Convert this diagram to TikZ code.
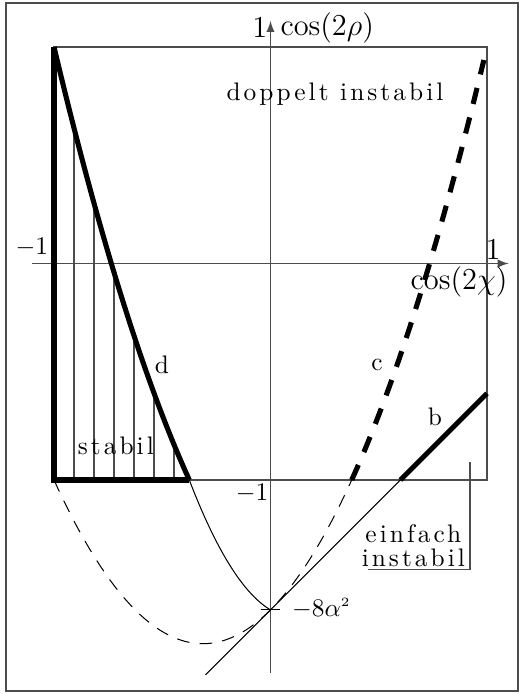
\documentclass[tikz,border=0pt]{standalone}
\usepackage{fontspec}
\newfontfamily\spacedrm{lmroman10-regular.otf}[LetterSpace=12]
\tikzset{
  lbl/.style={font=\spacedrm, inner sep=0pt},
  mlbl/.style={font=\large, inner sep=0pt},
  fine/.style={black!70, line width=0.5pt},
  heavy/.style={line width=2pt}
}
\begin{document}
\begin{tikzpicture}[scale=3]
  \useasboundingbox (-1.2494,-1.9885) rectangle (1.1570,1.2171);
  \draw[fine, line width=0.7pt] (-1.2217,-1.9746) rectangle (1.1432,1.2032);
  % square and axes
  \draw[fine] (-1,-1) rectangle (1,1);
  \draw[fine, -latex] (-1.1,0) -- (1.1,0);
  \draw[fine, -latex] (0,-1.89) -- (0,1.12);
  \draw (-0.046,-1.6) -- (0.046,-1.6);
  % hatching of the stable region
  \foreach \k in {1,...,6} {
    \pgfmathsetmacro\hx{-1+0.0924*\k}
    \draw[fine] (\hx,-1) -- (\hx,{-1.6-(\hx)+1.6*(\hx)*(\hx)});
  }
  % curve d
  \draw[heavy, domain=-1:-0.375, samples=40] plot (\x,{-1.6-\x+1.6*\x*\x});
  \draw[domain=-0.375:0, samples=30] plot (\x,{-1.6-0.594*\x+2.683*\x*\x});
  \draw[heavy] (-1,1) -- (-1,-1) -- (-0.375,-1);
  % curve c
  \draw[dash pattern=on 5pt off 4pt, domain=-1:0.375, samples=60] plot (\x,{-1.6+\x+1.6*\x*\x});
  \draw[heavy, dash pattern=on 6.5pt off 5.5pt, domain=0.375:0.9857, samples=30] plot (\x,{-1.6+\x+1.6*\x*\x});
  % line b
  \draw (-0.3,-1.9) -- (0.6,-1);
  \draw[heavy] (0.6,-1) -- (1,-0.6);
  \draw[fine] (0.921,-0.917) -- (0.921,-1.414) -- (0.45,-1.414);
  % labels
  \node[mlbl, anchor=east] (yone) at (-0.012,1.088) {$1$};
  \node[mlbl, anchor=west] (ylab) at (0.044,1.088) {$\cos(2\rho)$};
  \node[mlbl] (xone) at (1.028,0.062) {$1$};
  \node[mlbl] (xlab) at (0.871,-0.085) {$\cos(2\chi)$};
  \node[inner sep=0pt] (xmone) at (-1.102,0.076) {$-1$};
  \node[inner sep=0pt] (ymone) at (-0.085,-1.06) {$-1$};
  \node[inner sep=0pt, anchor=west] (alpha) at (0.098,-1.593) {$-8\alpha^{\scriptscriptstyle 2}$};
  \node[lbl] (dop) at (0.298,0.783) {doppelt instabil};
  \node[lbl] (dd) at (-0.501,-0.469) {d};
  \node[lbl] (cc) at (0.492,-0.469) {c};
  \node[lbl] (bb) at (0.76,-0.709) {b};
  \node[lbl] (stab) at (-0.714,-0.843) {stabil};
  \node[lbl, align=center] (einf) at (0.66,-1.305) {einfach\\[-2.5pt]instabil};
\end{tikzpicture}
\end{document}
